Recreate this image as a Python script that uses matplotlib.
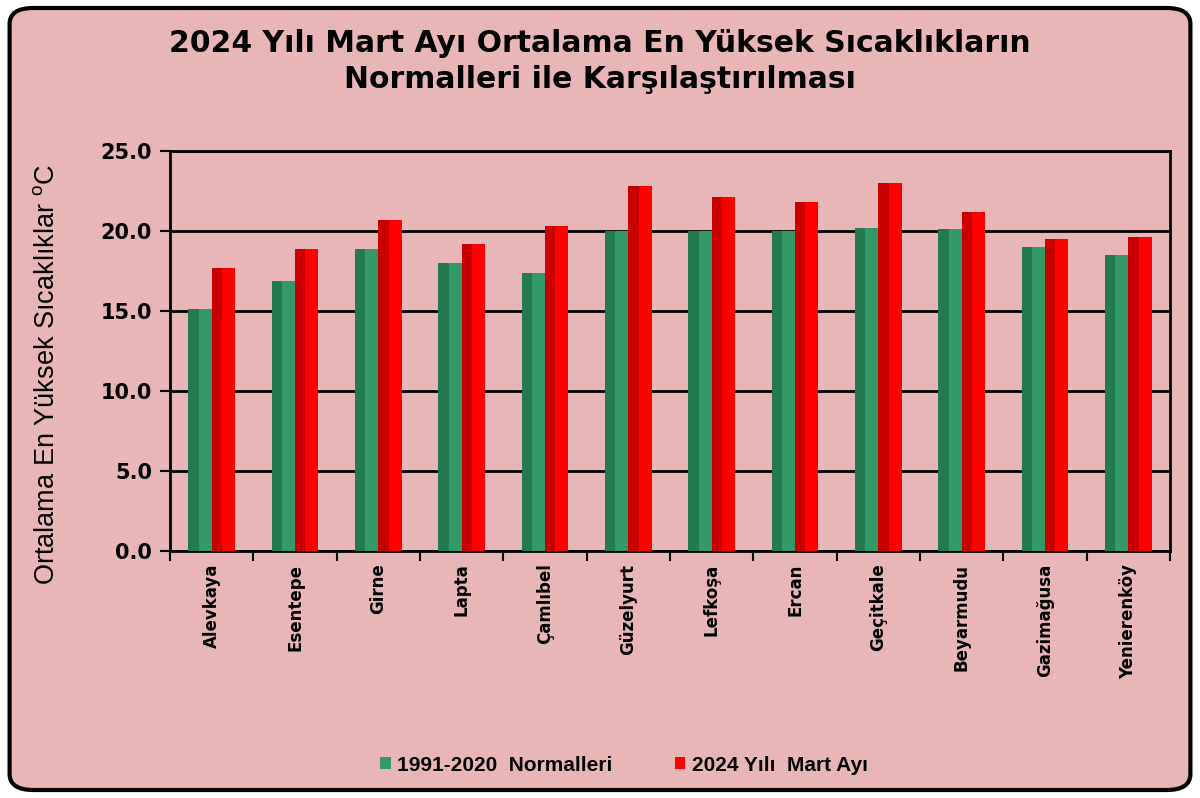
import matplotlib
matplotlib.use("Agg")
import matplotlib.pyplot as plt
import numpy as np
from matplotlib.patches import FancyBboxPatch, Patch

plt.rcParams['font.family'] = ['Liberation Sans', 'DejaVu Sans']
plt.rcParams['mathtext.fontset'] = 'custom'
plt.rcParams['mathtext.rm'] = 'Liberation Sans'

stations = ["Alevkaya", "Esentepe", "Girne", "Lapta", "Çamlıbel", "Güzelyurt",
            "Lefkoşa", "Ercan", "Geçitkale", "Beyarmudu", "Gazimağusa", "Yenierenköy"]
normals = [15.1, 16.9, 18.9, 18.0, 17.4, 20.0, 20.0, 20.0, 20.2, 20.1, 19.0, 18.5]
march2024 = [17.7, 18.9, 20.7, 19.2, 20.3, 22.8, 22.1, 21.8, 23.0, 21.2, 19.5, 19.6]
series_names = ["1991-2020  Normalleri", "2024 Yılı  Mart Ayı"]
yticks = [0.0, 5.0, 10.0, 15.0, 20.0, 25.0]

bg = "#E8B6B6"
green, green_dark = "#339966", "#237A50"
red, red_dark = "#FF0000", "#C80000"

fig = plt.figure(figsize=(12, 7.98), dpi=100)
fig.patch.set_facecolor("white")
border = FancyBboxPatch((0.008, 0.010), 0.984, 0.980,
                        boxstyle="round,pad=0,rounding_size=0.02",
                        transform=fig.transFigure, facecolor=bg,
                        edgecolor="black", linewidth=3, zorder=-10)
fig.patches.append(border)

ax = fig.add_axes([0.1417, 0.3095, 0.8333, 0.5013])
ax.set_facecolor(bg)

x = np.arange(len(stations))
w = 0.28
for vals, off, c, cd in [(normals, -w / 2, green, green_dark), (march2024, w / 2, red, red_dark)]:
    ax.bar(x + off, vals, width=w, color=c, zorder=3, linewidth=0)
    ax.bar(x + off - w / 2 + w * 0.22, vals, width=w * 0.44, color=cd, zorder=3.1, linewidth=0)

ax.set_xlim(-0.5, len(stations) - 0.5)
ax.set_ylim(0, 25)
ax.set_yticks(yticks)
ax.set_yticklabels([f"{v:.1f}" for v in yticks], fontsize=15, fontweight="bold",
                   family="DejaVu Sans")
ax.yaxis.grid(True, color="black", linewidth=2, zorder=1)
ax.set_axisbelow(True)

ax.set_xticks(x)
ax.set_xticklabels(stations, rotation=90, fontsize=12, fontweight="bold", family="DejaVu Sans")
ax.tick_params(axis="x", length=0, pad=9)
ax.set_xticks(np.arange(-0.5, len(stations)), minor=True)
ax.tick_params(axis="x", which="minor", length=7, width=1.5, direction="out")
ax.tick_params(axis="y", length=7, width=1.5, direction="out", pad=6)

for s in ax.spines.values():
    s.set_linewidth(2)
    s.set_color("black")

ax.set_ylabel(r"Ortalama En Yüksek Sıcaklıklar $^{\rm o}$C", fontsize=19.5, family="Liberation Sans")
ax.yaxis.set_label_coords(-0.11, 0.44)

fig.text(0.5, 0.923, "2024 Yılı Mart Ayı Ortalama En Yüksek Sıcaklıkların\nNormalleri ile Karşılaştırılması",
         ha="center", va="center", fontsize=21.5, fontweight="bold", linespacing=1.3,
         family="DejaVu Sans")

handles = [Patch(facecolor=green, edgecolor="none"), Patch(facecolor=red, edgecolor="none")]
fig.legend(handles, series_names, loc="center", bbox_to_anchor=(0.52, 0.041), ncol=2,
           frameon=False, prop={"size": 15, "weight": "bold", "family": "Liberation Sans"},
           handlelength=0.5, handleheight=0.5, handletextpad=0.3, columnspacing=3.0)

fig.savefig("out.png", dpi=100, facecolor=fig.get_facecolor())
